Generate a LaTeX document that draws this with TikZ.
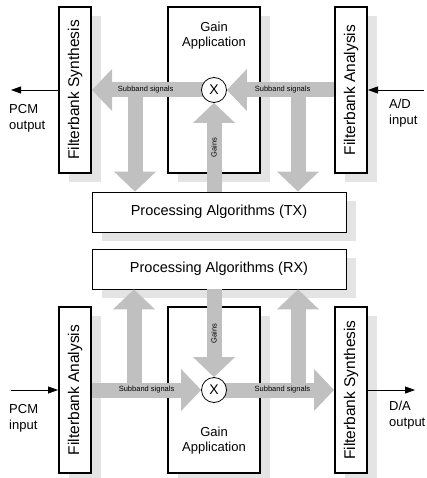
\documentclass[tikz,border=0pt]{standalone}
\usepackage{fontspec}
\setmainfont{Liberation Sans}
\usepackage{tikz}
\usetikzlibrary{arrows.meta,shadows}
\definecolor{arrow-gray}{RGB}{192,192,192}
\definecolor{shadow-gray}{RGB}{228,228,228}
\pgfdeclarelayer{front}
\pgfsetlayers{main,front}
\tikzset{
    box-shadow/.style = {general shadow={shadow xshift=10pt, shadow yshift=-9pt, fill=shadow-gray}},
    fb-box/.style = {draw, line width=2pt, fill=white, box-shadow, minimum width=32pt, minimum height=166pt, inner sep=0pt},
    fb-text/.style = {rotate=90, font=\fontsize{15.5}{18}\selectfont},
    gain-box/.style = {draw, line width=2pt, fill=white, box-shadow, minimum width=92pt, minimum height=166pt, inner sep=0pt},
    algo-box/.style = {draw, line width=0.8pt, fill=white, box-shadow, minimum width=254pt, minimum height=40pt, font=\fontsize{14.5}{17}\selectfont},
    mult/.style = {circle, draw, line width=0.8pt, fill=white, minimum size=25pt, inner sep=0pt, font=\fontsize{14}{16}\selectfont},
    fat-arrow/.style = {draw=arrow-gray, line width=15pt, -{Triangle[length=20pt, width=42pt, line width=0pt]}},
    thin-arrow/.style = {line width=0.8pt, -{Triangle[length=10pt, width=7pt]}},
    small-label/.style = {font=\fontsize{7.5}{9}\selectfont},
    io-label/.style = {anchor=north west, align=left, inner sep=0pt, font=\fontsize{13}{16}\selectfont},
}

\begin{document}
\begin{tikzpicture}[x=1pt, y=-1pt, font=\fontsize{13}{15}\selectfont]
\useasboundingbox (0,0) rectangle (426,478);

% TX side
\node[fb-box, label={[fb-text]center:Filterbank Synthesis}] (synth-tx) at (75,90) {};
\node[gain-box] (gain-tx) at (214,90) {};
\node[fb-box, label={[fb-text]center:Filterbank Analysis}] (anal-tx) at (351,90) {};
\node[align=center] at (214,35.5) {Gain\\Application};
\node[algo-box] (algo-tx) at (219,212) {Processing Algorithms (TX)};
\begin{pgfonlayer}{front}
\node[mult] (mult-tx) at (214,90) {X};
\end{pgfonlayer}

\coordinate (tap-tx-l) at (135,90);
\coordinate (tap-tx-r) at (298,90);
\draw[fat-arrow] (tap-tx-l) -- (tap-tx-l |- algo-tx.north);
\draw[fat-arrow] (tap-tx-r) -- (tap-tx-r |- algo-tx.north);
\draw[fat-arrow] (mult-tx |- algo-tx.north) -- (mult-tx.south) node[midway, rotate=90, small-label] {Gains};
\draw[fat-arrow] (anal-tx.west) -- (mult-tx.east) node[pos=0.48, small-label] {Subband signals};
\draw[fat-arrow] (mult-tx.center) -- (synth-tx.east) node[pos=0.56, small-label] {Subband signals};

\coordinate (pcm-out) at (11,90);
\coordinate (ad-in) at (424,90);
\draw[thin-arrow] (synth-tx.west) -- (pcm-out);
\draw[thin-arrow] (ad-in) -- (anal-tx.east);
\node[io-label] at (9,104) {PCM\\output};
\node[io-label] at (389,99) {A/D\\input};

% RX side
\node[algo-box] (algo-rx) at (219,269) {Processing Algorithms (RX)};
\node[fb-box, label={[fb-text]center:Filterbank Analysis}] (anal-rx) at (75,390) {};
\node[gain-box] (gain-rx) at (214,390) {};
\node[fb-box, label={[fb-text]center:Filterbank Synthesis}] (synth-rx) at (351,390) {};
\node[align=center] at (214,441) {Gain\\Application};
\begin{pgfonlayer}{front}
\node[mult] (mult-rx) at (214,390) {X};
\end{pgfonlayer}

\coordinate (tap-rx-l) at (134,390);
\coordinate (tap-rx-r) at (298,390);
\draw[fat-arrow] (tap-rx-l) -- (tap-rx-l |- algo-rx.south);
\draw[fat-arrow] (tap-rx-r) -- (tap-rx-r |- algo-rx.south);
\draw[fat-arrow] (mult-rx |- algo-rx.south) -- (mult-rx.north) node[midway, rotate=90, small-label] {Gains};
\draw[fat-arrow] (anal-rx.east) -- (mult-rx.west) node[midway, small-label] {Subband signals};
\draw[fat-arrow] (mult-rx.center) -- (synth-rx.west) node[pos=0.57, small-label] {Subband signals};

\coordinate (pcm-in) at (11,390);
\coordinate (da-out) at (415,390);
\draw[thin-arrow] (pcm-in) -- (anal-rx.west);
\draw[thin-arrow] (synth-rx.east) -- (da-out);
\node[io-label] at (9,404) {PCM\\input};
\node[io-label] at (389,401) {D/A\\output};
\end{tikzpicture}
\end{document}
